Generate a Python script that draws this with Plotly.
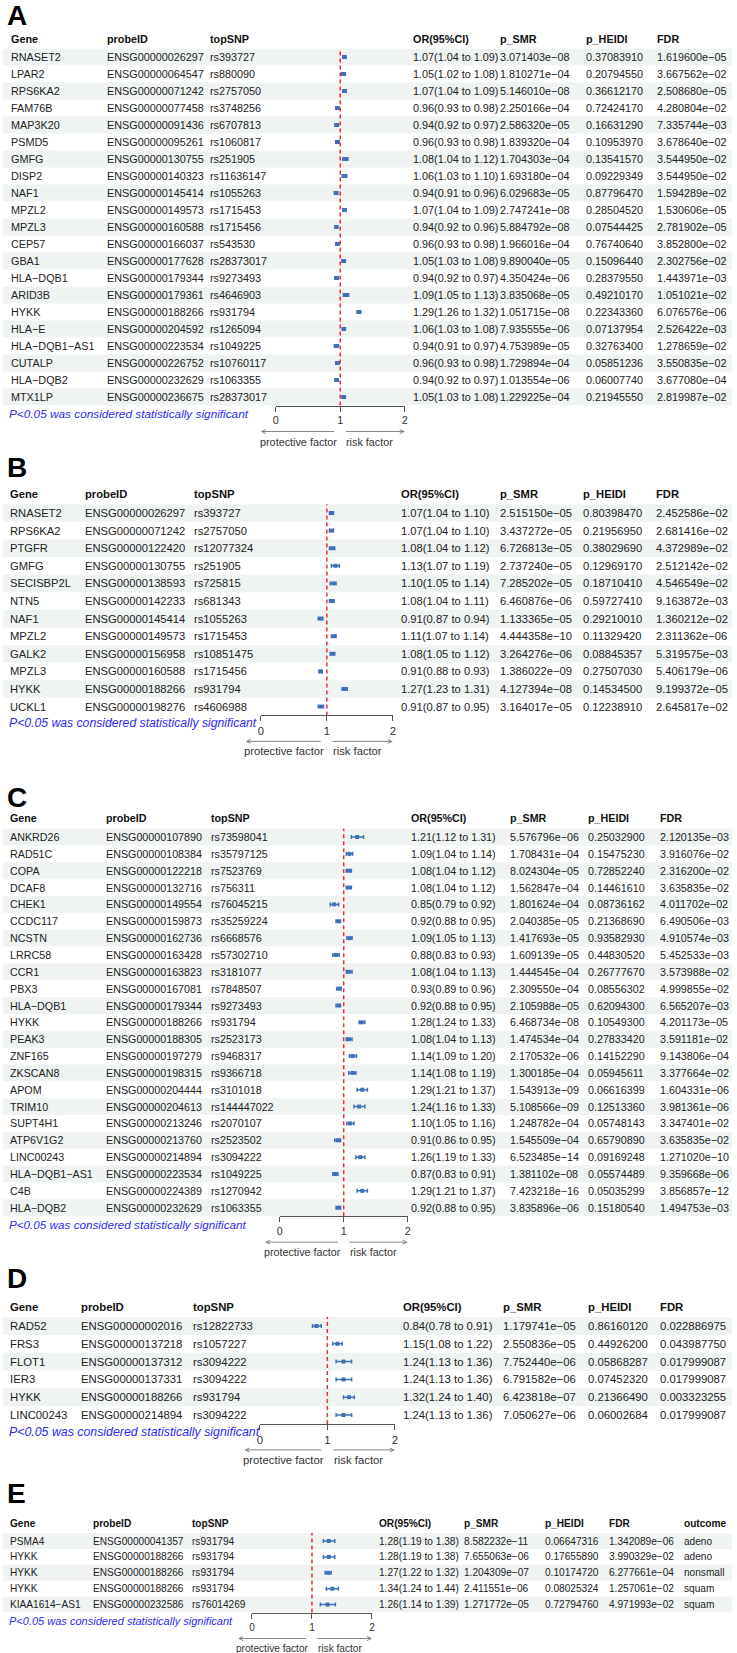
import plotly.graph_objects as go

W, H = 737, 1653
MINUS = "\u2212"

# ---------------- data ----------------
A_gene = ["RNASET2", "LPAR2", "RPS6KA2", "FAM76B", "MAP3K20", "PSMD5", "GMFG", "DISP2", "NAF1", "MPZL2",
          "MPZL3", "CEP57", "GBA1", "HLA-DQB1", "ARID3B", "HYKK", "HLA-E", "HLA-DQB1-AS1", "CUTALP", "HLA-DQB2", "MTX1LP"]
A_probe = ["ENSG00000026297", "ENSG00000064547", "ENSG00000071242", "ENSG00000077458", "ENSG00000091436",
           "ENSG00000095261", "ENSG00000130755", "ENSG00000140323", "ENSG00000145414", "ENSG00000149573",
           "ENSG00000160588", "ENSG00000166037", "ENSG00000177628", "ENSG00000179344", "ENSG00000179361",
           "ENSG00000188266", "ENSG00000204592", "ENSG00000223534", "ENSG00000226752", "ENSG00000232629",
           "ENSG00000236675"]
A_snp = ["rs393727", "rs880090", "rs2757050", "rs3748256", "rs6707813", "rs1060817", "rs251905", "rs11636147",
         "rs1055263", "rs1715453", "rs1715456", "rs543530", "rs28373017", "rs9273493", "rs4646903", "rs931794",
         "rs1265094", "rs1049225", "rs10760117", "rs1063355", "rs28373017"]
A_or = [1.07, 1.05, 1.07, 0.96, 0.94, 0.96, 1.08, 1.06, 0.94, 1.07, 0.94, 0.96, 1.05, 0.94, 1.09, 1.29, 1.06, 0.94, 0.96, 0.94, 1.05]
A_lo = [1.04, 1.02, 1.04, 0.93, 0.92, 0.93, 1.04, 1.03, 0.91, 1.04, 0.92, 0.93, 1.03, 0.92, 1.05, 1.26, 1.03, 0.91, 0.93, 0.92, 1.03]
A_hi = [1.09, 1.08, 1.09, 0.98, 0.97, 0.98, 1.12, 1.10, 0.96, 1.09, 0.96, 0.98, 1.08, 0.97, 1.13, 1.32, 1.08, 0.97, 0.98, 0.97, 1.08]
A_psmr = ["3.071403e-08", "1.810271e-04", "5.146010e-08", "2.250166e-04", "2.586320e-05", "1.839320e-04",
          "1.704303e-04", "1.693180e-04", "6.029683e-05", "2.747241e-08", "5.884792e-08", "1.966016e-04",
          "9.890040e-05", "4.350424e-06", "3.835068e-05", "1.051715e-08", "7.935555e-06", "4.753989e-05",
          "1.729894e-04", "1.013554e-06", "1.229225e-04"]
A_pheidi = ["0.37083910", "0.20794550", "0.36612170", "0.72424170", "0.16631290", "0.10953970", "0.13541570",
            "0.09229349", "0.87796470", "0.28504520", "0.07544425", "0.76740640", "0.15096440", "0.28379550",
            "0.49210170", "0.22343360", "0.07137954", "0.32763400", "0.05851236", "0.06007740", "0.21945550"]
A_fdr = ["1.619600e-05", "3.667562e-02", "2.508680e-05", "4.280804e-02", "7.335744e-03", "3.678640e-02",
         "3.544950e-02", "3.544950e-02", "1.594289e-02", "1.530606e-05", "2.781902e-05", "3.852800e-02",
         "2.302756e-02", "1.443971e-03", "1.051021e-02", "6.076576e-06", "2.526422e-03", "1.278659e-02",
         "3.550835e-02", "3.677080e-04", "2.819987e-02"]

B_gene = ["RNASET2", "RPS6KA2", "PTGFR", "GMFG", "SECISBP2L", "NTN5", "NAF1", "MPZL2", "GALK2", "MPZL3", "HYKK", "UCKL1"]
B_probe = ["ENSG00000026297", "ENSG00000071242", "ENSG00000122420", "ENSG00000130755", "ENSG00000138593",
           "ENSG00000142233", "ENSG00000145414", "ENSG00000149573", "ENSG00000156958", "ENSG00000160588",
           "ENSG00000188266", "ENSG00000198276"]
B_snp = ["rs393727", "rs2757050", "rs12077324", "rs251905", "rs725815", "rs681343", "rs1055263", "rs1715453",
         "rs10851475", "rs1715456", "rs931794", "rs4606988"]
B_or = [1.07, 1.07, 1.08, 1.13, 1.10, 1.08, 0.91, 1.11, 1.08, 0.91, 1.27, 0.91]
B_lo = [1.04, 1.04, 1.04, 1.07, 1.05, 1.04, 0.87, 1.07, 1.05, 0.88, 1.23, 0.87]
B_hi = [1.10, 1.10, 1.12, 1.19, 1.14, 1.11, 0.94, 1.14, 1.12, 0.93, 1.31, 0.95]
B_psmr = ["2.515150e-05", "3.437272e-05", "6.726813e-05", "2.737240e-05", "7.285202e-05", "6.460876e-06",
          "1.133365e-05", "4.444358e-10", "3.264276e-06", "1.386022e-09", "4.127394e-08", "3.164017e-05"]
B_pheidi = ["0.80398470", "0.21956950", "0.38029690", "0.12969170", "0.18710410", "0.59727410", "0.29210010",
            "0.11329420", "0.08845357", "0.27507030", "0.14534500", "0.12238910"]
B_fdr = ["2.452586e-02", "2.681416e-02", "4.372989e-02", "2.512142e-02", "4.546549e-02", "9.163872e-03",
         "1.360212e-02", "2.311362e-06", "5.319575e-03", "5.406179e-06", "9.199372e-05", "2.645817e-02"]

C_gene = ["ANKRD26", "RAD51C", "COPA", "DCAF8", "CHEK1", "CCDC117", "NCSTN", "LRRC58", "CCR1", "PBX3", "HLA-DQB1",
          "HYKK", "PEAK3", "ZNF165", "ZKSCAN8", "APOM", "TRIM10", "SUPT4H1", "ATP6V1G2", "LINC00243",
          "HLA-DQB1-AS1", "C4B", "HLA-DQB2"]
C_probe = ["ENSG00000107890", "ENSG00000108384", "ENSG00000122218", "ENSG00000132716", "ENSG00000149554",
           "ENSG00000159873", "ENSG00000162736", "ENSG00000163428", "ENSG00000163823", "ENSG00000167081",
           "ENSG00000179344", "ENSG00000188266", "ENSG00000188305", "ENSG00000197279", "ENSG00000198315",
           "ENSG00000204444", "ENSG00000204613", "ENSG00000213246", "ENSG00000213760", "ENSG00000214894",
           "ENSG00000223534", "ENSG00000224389", "ENSG00000232629"]
C_snp = ["rs73598041", "rs35797125", "rs7523769", "rs756311", "rs76045215", "rs35259224", "rs6668576",
         "rs57302710", "rs3181077", "rs7848507", "rs9273493", "rs931794", "rs2523173", "rs9468317", "rs9366718",
         "rs3101018", "rs144447022", "rs2070107", "rs2523502", "rs3094222", "rs1049225", "rs1270942", "rs1063355"]
C_or = [1.21, 1.09, 1.08, 1.08, 0.85, 0.92, 1.09, 0.88, 1.08, 0.93, 0.92, 1.28, 1.08, 1.14, 1.14, 1.29, 1.24,
        1.10, 0.91, 1.26, 0.87, 1.29, 0.92]
C_lo = [1.12, 1.04, 1.04, 1.04, 0.79, 0.88, 1.05, 0.83, 1.04, 0.89, 0.88, 1.24, 1.04, 1.09, 1.08, 1.21, 1.16,
        1.05, 0.86, 1.19, 0.83, 1.21, 0.88]
C_hi = [1.31, 1.14, 1.12, 1.12, 0.92, 0.95, 1.13, 0.93, 1.13, 0.96, 0.95, 1.33, 1.13, 1.20, 1.19, 1.37, 1.33,
        1.16, 0.95, 1.33, 0.91, 1.37, 0.95]
C_psmr = ["5.576796e-06", "1.708431e-04", "8.024304e-05", "1.562847e-04", "1.801624e-04", "2.040385e-05",
          "1.417693e-05", "1.609139e-05", "1.444545e-04", "2.309550e-04", "2.105988e-05", "6.468734e-08",
          "1.474534e-04", "2.170532e-06", "1.300185e-04", "1.543913e-09", "5.108566e-09", "1.248782e-04",
          "1.545509e-04", "6.523485e-14", "1.381102e-08", "7.423218e-16", "3.835896e-06"]
C_pheidi = ["0.25032900", "0.15475230", "0.72852240", "0.14461610", "0.08736162", "0.21368690", "0.93582930",
            "0.44830520", "0.26777670", "0.08556302", "0.62094300", "0.10549300", "0.27833420", "0.14152290",
            "0.05945611", "0.06616399", "0.12513360", "0.05748143", "0.65790890", "0.09169248", "0.05574489",
            "0.05035299", "0.15180540"]
C_fdr = ["2.120135e-03", "3.916076e-02", "2.316200e-02", "3.635835e-02", "4.011702e-02", "6.490506e-03",
         "4.910574e-03", "5.452533e-03", "3.573988e-02", "4.999855e-02", "6.565207e-03", "4.201173e-05",
         "3.591181e-02", "9.143806e-04", "3.377664e-02", "1.604331e-06", "3.981361e-06", "3.347401e-02",
         "3.635835e-02", "1.271020e-10", "9.359668e-06", "3.856857e-12", "1.494753e-03"]

D_gene = ["RAD52", "FRS3", "FLOT1", "IER3", "HYKK", "LINC00243"]
D_probe = ["ENSG00000002016", "ENSG00000137218", "ENSG00000137312", "ENSG00000137331", "ENSG00000188266",
           "ENSG00000214894"]
D_snp = ["rs12822733", "rs1057227", "rs3094222", "rs3094222", "rs931794", "rs3094222"]
D_or = [0.84, 1.15, 1.24, 1.24, 1.32, 1.24]
D_lo = [0.78, 1.08, 1.13, 1.13, 1.24, 1.13]
D_hi = [0.91, 1.22, 1.36, 1.36, 1.40, 1.36]
D_psmr = ["1.179741e-05", "2.550836e-05", "7.752440e-06", "6.791582e-06", "6.423818e-07", "7.050627e-06"]
D_pheidi = ["0.86160120", "0.44926200", "0.05868287", "0.07452320", "0.21366490", "0.06002684"]
D_fdr = ["0.022886975", "0.043987750", "0.017999087", "0.017999087", "0.003323255", "0.017999087"]

E_gene = ["PSMA4", "HYKK", "HYKK", "HYKK", "KIAA1614-AS1"]
E_probe = ["ENSG00000041357", "ENSG00000188266", "ENSG00000188266", "ENSG00000188266", "ENSG00000232586"]
E_snp = ["rs931794", "rs931794", "rs931794", "rs931794", "rs76014269"]
E_or = [1.28, 1.28, 1.27, 1.34, 1.26]
E_lo = [1.19, 1.19, 1.22, 1.24, 1.14]
E_hi = [1.38, 1.38, 1.32, 1.44, 1.39]
E_psmr = ["8.582232e-11", "7.655063e-06", "1.204309e-07", "2.411551e-06", "1.271772e-05"]
E_pheidi = ["0.06647316", "0.17655890", "0.10174720", "0.08025324", "0.72794760"]
E_fdr = ["1.342089e-06", "3.990329e-02", "6.277661e-04", "1.257061e-02", "4.971993e-02"]
E_outcome = ["adeno", "adeno", "nonsmall", "squam", "squam"]

HEADERS = ["Gene", "probeID", "topSNP", "OR(95%CI)", "p_SMR", "p_HEIDI", "FDR"]
AXIS_TICKS = [0, 1, 2]
NOTE = "P<0.05 was considered statistically significant"

# ---------------- layout constants (pixels) ----------------
FONT = "Liberation Sans, Arial, Helvetica, sans-serif"
BLUE = "#3f6fb5"
RED = "#e8303a"
STRIPE = "#eff3f2"

panels = [
    dict(label="A", gene=A_gene, probe=A_probe, snp=A_snp, o=A_or, lo=A_lo, hi=A_hi, psmr=A_psmr,
         pheidi=A_pheidi, fdr=A_fdr, extra=None, label_y=15, header_y=39, row1=57, step=17.0,
         px0=275, px2=405, cols=[6, 103, 207, 411, 499, 586, 657]),
    dict(label="B", gene=B_gene, probe=B_probe, snp=B_snp, o=B_or, lo=B_lo, hi=B_hi, psmr=B_psmr,
         pheidi=B_pheidi, fdr=B_fdr, extra=None, label_y=467, header_y=494, row1=513, step=17.6,
         px0=260, px2=393, cols=[5, 81, 191, 399, 499, 583, 656]),
    dict(label="C", gene=C_gene, probe=C_probe, snp=C_snp, o=C_or, lo=C_lo, hi=C_hi, psmr=C_psmr,
         pheidi=C_pheidi, fdr=C_fdr, extra=None, label_y=797, header_y=818, row1=837, step=16.85,
         px0=279, px2=408, cols=[5, 102, 208, 409, 509, 588, 660]),
    dict(label="D", gene=D_gene, probe=D_probe, snp=D_snp, o=D_or, lo=D_lo, hi=D_hi, psmr=D_psmr,
         pheidi=D_pheidi, fdr=D_fdr, extra=None, label_y=1278, header_y=1307, row1=1326, step=17.8,
         px0=259, px2=395, cols=[5, 77, 190, 401, 502, 588, 660]),
    dict(label="E", gene=E_gene, probe=E_probe, snp=E_snp, o=E_or, lo=E_lo, hi=E_hi, psmr=E_psmr,
         pheidi=E_pheidi, fdr=E_fdr, extra=("outcome", E_outcome), label_y=1493, header_y=1523, row1=1541,
         step=15.9, px0=251, px2=372, cols=[5, 89, 189, 377, 463, 544, 609, 685]),
]


def m(s):
    return s.replace("-", MINUS)


def py(p):
    return 1 - p / H


fig = go.Figure()
annotations = []
shapes = []
layout_axes = {}

for k, P in enumerate(panels, start=1):
    n = len(P["gene"])
    top = P["row1"] - P["step"] / 2
    bottom = top + n * P["step"]
    fs = P["step"] / 1.57
    xs = f"x{k}" if k > 1 else "x"
    ys = f"y{k}" if k > 1 else "y"
    xname = f"xaxis{k}" if k > 1 else "xaxis"
    yname = f"yaxis{k}" if k > 1 else "yaxis"

    layout_axes[xname] = dict(domain=[P["px0"] / W, P["px2"] / W], range=[0, 2], anchor=ys,
                              showline=True, linecolor="#555555", linewidth=1, ticks="outside", ticklen=5,
                              tickcolor="#555555", tickvals=AXIS_TICKS, ticktext=[str(t) for t in AXIS_TICKS],
                              tickfont=dict(family=FONT, size=fs, color="#333333"),
                              showgrid=False, zeroline=False, fixedrange=True)
    layout_axes[yname] = dict(domain=[py(bottom), py(top)], range=[n - 0.5, -0.5], anchor=xs,
                              visible=False, showgrid=False, zeroline=False, fixedrange=True)

    # stripes
    for i in range(0, n, 2):
        shapes.append(dict(type="rect", xref="paper", yref=ys, x0=0, x1=735 / W, y0=i - 0.5, y1=i + 0.5,
                           fillcolor=STRIPE, line=dict(width=0), layer="below"))
    # reference line at OR = 1
    shapes.append(dict(type="line", xref=xs, yref=f"{ys} domain", x0=1, x1=1, y0=0, y1=1,
                       line=dict(color=RED, width=1.5, dash="4px,3px")))

    # forest marks
    fig.add_trace(go.Scatter(
        x=P["o"], y=list(range(n)), mode="markers", xaxis=xs, yaxis=ys,
        marker=dict(symbol="square", size=4, color=BLUE),
        error_x=dict(type="data", symmetric=False,
                     array=[h - o for h, o in zip(P["hi"], P["o"])],
                     arrayminus=[o - l for o, l in zip(P["o"], P["lo"])],
                     color=BLUE, thickness=1.5, width=2),
        hoverinfo="skip", showlegend=False, cliponaxis=False))

    # table text
    or_txt = [f"{o:.2f}({l:.2f} to {h:.2f})" for o, l, h in zip(P["o"], P["lo"], P["hi"])]
    columns = [[m(g) for g in P["gene"]], P["probe"], P["snp"], or_txt,
               [m(s) for s in P["psmr"]], P["pheidi"], [m(s) for s in P["fdr"]]]
    heads = list(HEADERS)
    if P["extra"]:
        heads.append(P["extra"][0])
        columns.append(P["extra"][1])
    for cx, head, col in zip(P["cols"], heads, columns):
        annotations.append(dict(xref="paper", yref="paper", x=cx / W, y=py(P["header_y"]),
                                text=f"<b>{head}</b>", showarrow=False, xanchor="left", yanchor="middle",
                                font=dict(family=FONT, size=fs, color="#111111")))
        for i, t in enumerate(col):
            annotations.append(dict(xref="paper", yref=ys, x=cx / W, y=i, text=t, showarrow=False,
                                    xanchor="left", yanchor="middle",
                                    font=dict(family=FONT, size=fs, color="#222222")))

    # panel label
    annotations.append(dict(xref="paper", yref="paper", x=2 / W, y=py(P["label_y"]), text=f"<b>{P['label']}</b>",
                            showarrow=False, xanchor="left", yanchor="middle",
                            font=dict(family=FONT, size=28, color="#000000")))
    # significance note
    annotations.append(dict(xref="paper", yref="paper", x=4 / W, y=py(bottom + 8), text=f"<i>{NOTE}</i>",
                            showarrow=False, xanchor="left", yanchor="middle",
                            font=dict(family=FONT, size=fs * 1.09, color="#2b2bf5")))
    # direction arrows
    ya = py(bottom + 26)
    annotations.append(dict(xref=xs, axref=xs, x=-0.23, ax=0.93, yref="paper", y=ya, ayref="pixel", ay=0,
                            text="", showarrow=True, arrowhead=5, arrowsize=0.9, arrowwidth=0.9,
                            arrowcolor="#777777"))
    annotations.append(dict(xref=xs, axref=xs, x=2.0, ax=1.065, yref="paper", y=ya, ayref="pixel", ay=0,
                            text="", showarrow=True, arrowhead=5, arrowsize=0.9, arrowwidth=0.9,
                            arrowcolor="#777777"))
    yt = py(bottom + 36)
    annotations.append(dict(xref=xs, x=0.35, yref="paper", y=yt, text="protective factor", showarrow=False,
                            xanchor="center", yanchor="middle", font=dict(family=FONT, size=fs, color="#333333")))
    annotations.append(dict(xref=xs, x=1.065, yref="paper", y=yt, text="risk factor", showarrow=False,
                            xanchor="left", yanchor="middle", font=dict(family=FONT, size=fs, color="#333333")))

fig.update_layout(width=W, height=H, margin=dict(l=0, r=0, t=0, b=0), paper_bgcolor="white",
                  plot_bgcolor="rgba(0,0,0,0)", showlegend=False, annotations=annotations, shapes=shapes,
                  **layout_axes)

fig.write_html("out.html", config={"displayModeBar": False},
               post_script="document.body.style.margin='0px';document.body.style.overflow='hidden';")
